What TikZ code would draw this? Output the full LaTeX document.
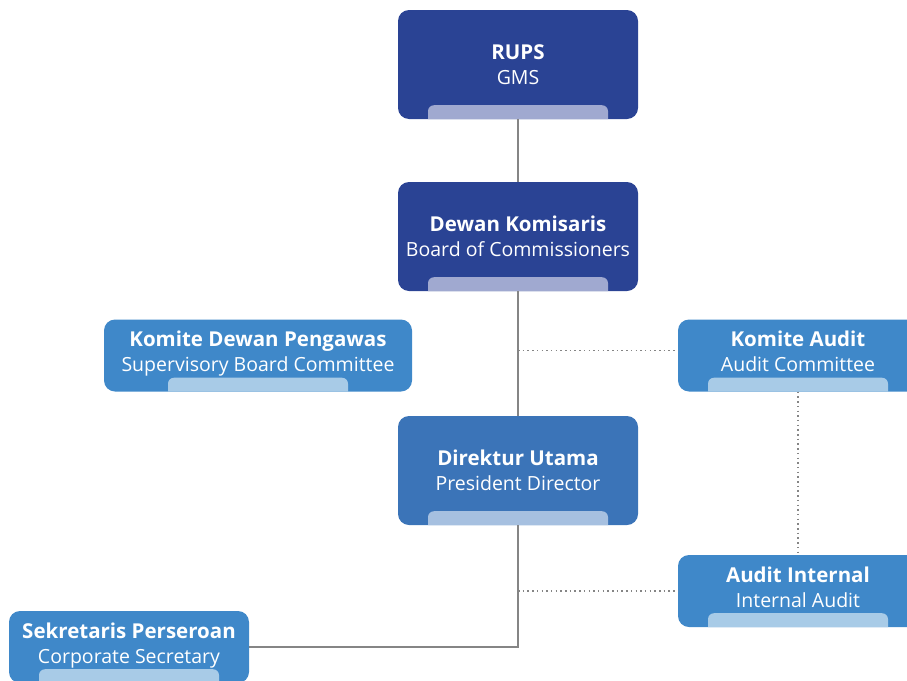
\documentclass[tikz,border=0pt]{standalone}
\usepackage{fontspec}
\setmainfont{Open Sans}
\usepackage{xcolor}
\usepackage{tikz}
\usetikzlibrary{positioning}

\definecolor{navy}{HTML}{2A4394}
\definecolor{navytab}{HTML}{A0A9D0}
\definecolor{midblue}{HTML}{3B74B8}
\definecolor{midtab}{HTML}{A6C0E0}
\definecolor{lightblue}{HTML}{3F88C9}
\definecolor{lighttab}{HTML}{A8CBE7}
\definecolor{linegray}{HTML}{858585}

\newcommand{\orgtab}[2]{%
  \fill[#2] ([xshift=-90pt]#1.south) {[rounded corners=6pt] -- ++(0pt,14pt) -- ++(180pt,0pt)} -- ++(0pt,-14pt) -- cycle;}
\newcommand{\orgtitle}[1]{{\fontsize{20.5}{25}\selectfont\bfseries #1}}

\begin{document}
\begin{tikzpicture}[x=1pt, y=-1pt,
    orgbox/.style={rounded corners=11pt, text=white, align=center, inner sep=0pt,
        font=\fontsize{19.5}{25}\selectfont},
    bigbox/.style={orgbox, minimum width=240pt, minimum height=109pt},
    smallbox/.style={orgbox, minimum width=240pt, minimum height=72pt, text depth=8pt},
    conn/.style={linegray, line width=1.6pt},
    dotconn/.style={linegray, line width=1.6pt, dash pattern=on 1.5pt off 3.2pt}]
        \useasboundingbox (0,0) rectangle (907,680);
        \clip (0,0) rectangle (907,680);
        % boxes
        \node[bigbox, fill=navy] (rups) at (518,64.5) {\orgtitle{RUPS}\\GMS};
        \node[bigbox, fill=navy] (dewan) at (518,236.5) {\orgtitle{Dewan Komisaris}\\Board of Commissioners};
        \node[bigbox, fill=midblue] (dirut) at (518,470.5) {\orgtitle{Direktur Utama}\\President Director};
        \node[smallbox, minimum width=308pt, fill=lightblue] (kdp) at (258,355.5) {\orgtitle{Komite Dewan Pengawas}\\Supervisory Board Committee};
        \node[smallbox, fill=lightblue] (kaudit) at (798,355.5) {\orgtitle{Komite Audit}\\Audit Committee};
        \node[smallbox, fill=lightblue] (ainternal) at (798,591) {\orgtitle{Audit Internal}\\Internal Audit};
        \node[smallbox, fill=lightblue] (sekper) at (129,647) {\orgtitle{Sekretaris Perseroan}\\Corporate Secretary};
        % tabs
        \orgtab{rups}{navytab}
        \orgtab{dewan}{navytab}
        \orgtab{dirut}{midtab}
        \foreach \n in {kdp,kaudit,ainternal,sekper} { \orgtab{\n}{lighttab} }
        % lines
        \draw[conn] (rups.south) -- (dewan.north);
        \draw[conn] (dewan.south) -- (dirut.north);
        \draw[conn] (dirut.south) |- (sekper.east);
        \coordinate (kaleft) at ([yshift=5pt]kaudit.west);
        \draw[dotconn] (dewan.south |- kaleft) -- (kaleft);
        \draw[dotconn] (dirut.south |- ainternal.west) -- (ainternal.west);
        \draw[dotconn] (kaudit.south) -- (ainternal.north);
    \end{tikzpicture}
\end{document}
